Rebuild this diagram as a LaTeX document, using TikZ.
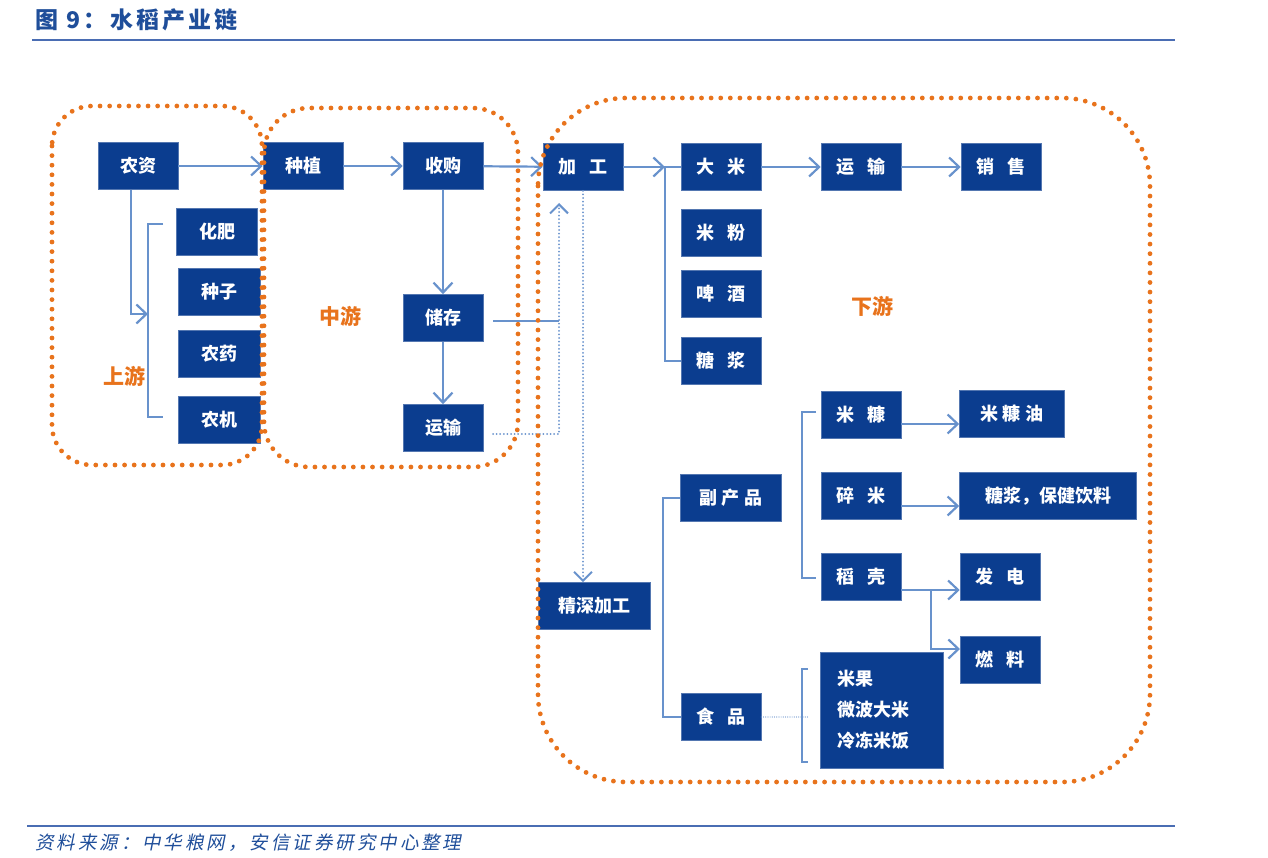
\documentclass[tikz,border=0pt]{standalone}
\usepackage{fontspec}
\setmainfont{Noto Sans CJK SC}
\newfontfamily\titlefont[LetterSpace=14]{Noto Sans CJK SC}
\newfontfamily\notefont[FakeSlant=0.2,LetterSpace=16]{Noto Sans CJK SC}
\usetikzlibrary{arrows.meta}
\definecolor{boxblue}{HTML}{0B3D8F}
\definecolor{linkblue}{HTML}{6892CC}
\definecolor{stageorange}{HTML}{E8731C}
\definecolor{headblue}{HTML}{1F4E9A}
\definecolor{ruleblue}{HTML}{4A6DB3}
\newcommand\gap{\hspace{0.75em}}

\begin{document}
\begin{tikzpicture}[x=1pt,y=-1pt,
    box/.style={rectangle, fill=boxblue, draw=boxblue!70!white, line width=0.6pt, text=white,
      font=\fontsize{18}{20}\selectfont\bfseries, minimum width=80pt, minimum height=47pt, inner sep=0pt},
    stage/.style={text=stageorange, font=\fontsize{21}{24}\selectfont\bfseries, inner sep=0pt},
    link/.style={draw=linkblue, line width=2.2pt},
    arr/.style={link, -{Straight Barb[length=10pt,width=19pt]}},
    bracket/.style={draw=linkblue, line width=1.8pt},
    thinlink/.style={draw=linkblue, line width=1.2pt},
    dots/.style={draw=linkblue, line width=2pt, dash pattern=on 0pt off 3.6pt, line cap=round},
    finedots/.style={draw=linkblue, line width=1.2pt, dash pattern=on 0pt off 2.2pt, line cap=round},
    zone/.style={draw=stageorange, line width=4.8pt, dash pattern=on 0pt off 9.6pt, line cap=round}]
  \useasboundingbox (0,0) rectangle (1268,858);

  % title and source
  \node (title) at (35,20) [anchor=west, text=headblue, inner sep=0pt] {\titlefont\fontsize{23}{26}\selectfont\bfseries 图 9：水稻产业链};
  \draw[ruleblue, line width=1.5pt] (32,40) -- (1175,40);
  \draw[ruleblue, line width=1.5pt] (27,826) -- (1175,826);
  \node (note) at (35,843) [anchor=west, text=headblue, inner sep=0pt] {\notefont\fontsize{18.5}{20}\selectfont 资料来源：中华粮网，安信证券研究中心整理};

  % upstream
  \node (NZ) at (138,166) [box] {农资};
  \node (HF) at (217,232) [box, minimum width=81pt] {化肥};
  \node (ZS) at (219,292) [box, minimum width=82pt] {种子};
  \node (NY) at (219,354) [box, minimum width=82pt] {农药};
  \node (NJ) at (219,420) [box, minimum width=82pt] {农机};

  % midstream
  \node (ZZ) at (303,166) [box] {种植};
  \node (SG) at (443,166) [box] {收购};
  \node (CC) at (443,318) [box] {储存};
  \node (YSa) at (443,428) [box] {运输};

  % downstream
  \node (JG) at (583,167) [box] {加\gap 工};
  \node (DM) at (721,167) [box] {大\gap 米};
  \node (YSb) at (861,167) [box] {运\gap 输};
  \node (XS) at (1001,167) [box] {销\gap 售};
  \node (MF) at (721,233) [box] {米\gap 粉};
  \node (PJ) at (721,294) [box] {啤\gap 酒};
  \node (TJ) at (721,361) [box] {糖\gap 浆};
  \node (JS) at (594,606) [box, minimum width=112pt] {精深加工};
  \node (FCP) at (731,498) [box, minimum width=101pt] {副 产 品};
  \node (SP) at (721,717) [box] {食\gap 品};
  \node (MK) at (861,415) [box] {米\gap 糠};
  \node (SM) at (861,496) [box] {碎\gap 米};
  \node (DK) at (861,577) [box] {稻\gap 壳};
  \node (MKY) at (1012,414) [box, minimum width=105pt] {米 糠 油};
  \node (TJBJ) at (1048,496) [box, minimum width=177pt] {糖浆，保健饮料};
  \node (FD) at (1000,577) [box] {发\gap 电};
  \node (RL) at (1000,660) [box] {燃\gap 料};
  \node (MG) at (882,710) [box, minimum height=116pt, text width=89pt, inner xsep=17pt, align=left,
    font=\fontsize{18}{31}\selectfont\bfseries] {米果\\微波大米\\冷冻米饭};

  \node (SY) at (124,376) [stage] {上游};
  \node (ZY) at (340,316) [stage] {中游};
  \node (XY) at (872,306) [stage] {下游};

  % main chain
  \draw[arr] (NZ) -- (ZZ);
  \draw[arr] (ZZ) -- (SG);
  \draw[arr] (SG) -- (JG);
  \draw[arr] (DM) -- (YSb);
  \draw[arr] (YSb) -- (XS);
  \coordinate (JGB) at (665,167);
  \draw[arr] (JG) -- (JGB);
  \draw[bracket] (DM.west) -- (JGB) |- (TJ.west);

  % inputs
  \coordinate (LBT) at (163,224);
  \coordinate (LBB) at (163,417);
  \coordinate (LBM) at (148,314);
  \draw[bracket] (LBT) -- ++(-15,0) |- (LBB);
  \draw[arr] ([xshift=-7pt]NZ.south) |- (LBM);

  % storage and transport
  \draw[arr] (SG) -- (CC);
  \draw[arr] (CC) -- (YSa);
  \coordinate (YSR) at (493,434);
  \coordinate (UPB) at (559,434);
  \coordinate (UPT) at (559,203);
  \coordinate (CCR) at (493,321);
  \draw[dots, -{Straight Barb[length=9pt,width=18pt]}] (YSR) -- (UPB) -- (UPT);
  \draw[thinlink] (CCR) -- (CCR -| UPB);
  \draw[dots, -{Straight Barb[length=9pt,width=18pt]}] (JG.south) -- (JG.south |- JS.north);

  % deep processing
  \draw[bracket] (FCP.west) -- ++(-17,0) |- (SP.west);
  \coordinate (BT) at (816,412);
  \coordinate (BB) at (816,578);
  \draw[bracket] (BT) -- ++(-14,0) |- (BB);
  \coordinate (MKa) at (901,424);
  \draw[arr] (MKa) -- (MKa -| MKY.west);
  \coordinate (SMa) at (901,506);
  \draw[arr] (SMa) -- (SMa -| TJBJ.west);
  \coordinate (DKa) at (901,590);
  \coordinate (DKb) at (931,590);
  \coordinate (DKc) at (960,649);
  \draw[arr] (DKa) -- (DKa -| FD.west);
  \draw[arr] (DKb) |- (DKc);
  \coordinate (MT) at (808,669);
  \coordinate (MB) at (808,762);
  \draw[thinlink] (MT) -- ++(-6,0) |- (MB);
  \draw[finedots] (SP.east) -- (SP.east -| MT);

  % stages
  \draw[zone, rounded corners=40pt] (52,106) rectangle (262,465);
  \draw[zone, rounded corners=45pt] (264,108) rectangle (518,467);
  \draw[zone, rounded corners=88pt] (538,98) rectangle (1150,782);
\end{tikzpicture}
\end{document}
